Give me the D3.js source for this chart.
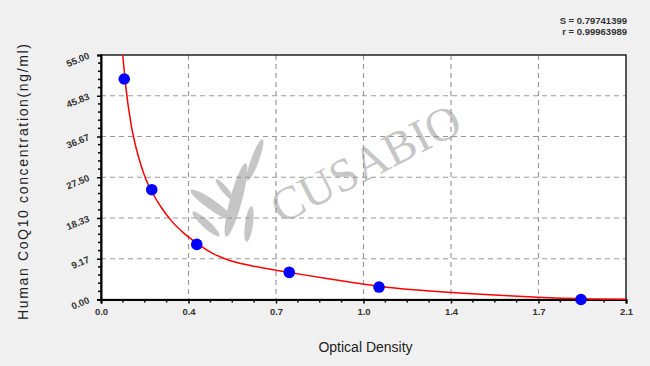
<!DOCTYPE html>
<html><head><meta charset="utf-8">
<script src="https://cdn.jsdelivr.net/npm/d3@7"></script>
<style>html,body{margin:0;padding:0;background:#f0f0f0;}svg{display:block;}</style>
</head><body>
<svg id="c" width="650" height="366"></svg>
<script>
const pointOD   = [0.093, 0.203, 0.383, 0.753, 1.112, 1.92];
const pointConc = [49.6, 24.7, 12.4, 6.1, 2.8, 0.0];
const curveOD   = [0.087, 0.10, 0.12, 0.14, 0.16, 0.18, 0.203, 0.24, 0.28, 0.33, 0.383, 0.443, 0.503, 0.6, 0.7, 0.753, 0.8, 0.903, 1.0, 1.112, 1.25, 1.356, 1.45, 1.536, 1.63, 1.728, 1.843, 1.95, 2.1];
const curveConc = [55, 47.5, 39.5, 34.2, 30.2, 27.0, 24.3, 20.8, 17.8, 15.0, 12.7, 10.5, 9.0, 7.6, 6.6, 6.1, 5.65, 4.72, 3.9, 3.0, 2.2, 1.75, 1.4, 1.1, 0.82, 0.56, 0.3, 0.14, 0.03];
const xTicks = [0, 0.35, 0.7, 1.05, 1.4, 1.75, 2.1];
const xTickLabels = ["0.0", "0.4", "0.7", "1.0", "1.4", "1.7", "2.1"];
const yTicks = [0, 9.1667, 18.3333, 27.5, 36.6667, 45.8333, 55];
const yTickLabels = ["0.00", "9.17", "18.33", "27.50", "36.67", "45.83", "55.00"];
const statLines = ["S = 0.79741399", "r = 0.99963989"];
const xTitle = "Optical Density";
const yTitle = "Human CoQ10 concentration(ng/ml)";

const svg = d3.select("#c");
const L = 101, R = 626, T = 55, B = 299.5;
const x = d3.scaleLinear().domain([0, 2.1]).range([L, R]);
const y = d3.scaleLinear().domain([0, 55]).range([B, T]);

svg.append("rect").attr("width", 650).attr("height", 366).attr("fill", "#f0f0f0");
svg.append("rect").attr("x", L).attr("y", T).attr("width", R - L).attr("height", B - T).attr("fill", "#fff");

// grid
const g = svg.append("g");
g.selectAll("line.vg").data(xTicks.slice(1, -1)).join("line")
  .attr("x1", d => x(d)).attr("x2", d => x(d)).attr("y1", T).attr("y2", B)
  .attr("stroke", "#999").attr("stroke-width", 1.2).attr("stroke-dasharray", "5,4");
g.selectAll("line.hg").data(yTicks.slice(1, -1)).join("line")
  .attr("y1", d => y(d)).attr("y2", d => y(d)).attr("x1", L).attr("x2", R)
  .attr("stroke", "#999").attr("stroke-width", 1.2).attr("stroke-dasharray", "5,4");

// watermark
const wm = svg.append("g").attr("opacity", 0.5);
wm.append("text").attr("transform", "translate(368,168) rotate(-27)")
  .attr("text-anchor", "middle").attr("dominant-baseline", "middle")
  .attr("font-family", "Liberation Serif, serif").attr("font-size", 47)
  .attr("fill", "#8f8f8f").text("CUSABIO");
const ell = [[236,200,6,38,15],[255,160,4,22,20],[212,205,26,5,35],[249,224,4,18,8],[206,224,18,4,42],[225,190,14,3,50]];
wm.selectAll("ellipse").data(ell).join("ellipse")
  .attr("transform", d => `translate(${d[0]},${d[1]}) rotate(${d[4]})`)
  .attr("rx", d => d[2]).attr("ry", d => d[3]).attr("fill", "#8f8f8f");

// axes frame
svg.append("rect").attr("x", L).attr("y", T).attr("width", R - L).attr("height", B - T)
  .attr("fill", "none").attr("stroke", "#000").attr("stroke-width", 1.3);

// x axis
const xAxis = d3.axisBottom(x).tickValues(xTicks).tickSize(4).tickFormat((d, i) => xTickLabels[i]);
const xa = svg.append("g").attr("transform", `translate(0,${B})`).call(xAxis);
const xMinor = [];
for (let i = 0; i < xTicks.length - 1; i++) for (let k = 1; k < 4; k++) xMinor.push(xTicks[i] + (xTicks[i+1]-xTicks[i]) * k / 4);
xa.selectAll("line.minor").data(xMinor).join("line").attr("class","minor")
  .attr("x1", d => x(d)).attr("x2", d => x(d)).attr("y1", 0).attr("y2", 3).attr("stroke", "#000").attr("stroke-width", 1.5);
xa.select(".domain").attr("stroke-width", 2);
xa.selectAll(".tick line").attr("stroke-width", 1.5);
xa.selectAll(".tick text").attr("font-family", "Liberation Sans, Arial, sans-serif").attr("font-weight", "bold")
  .attr("font-size", 9.5).attr("fill", "#333").attr("dy", "0.9em");

// y axis
const yAxis = d3.axisLeft(y).tickValues(yTicks).tickSize(4).tickFormat((d, i) => yTickLabels[i]);
const ya = svg.append("g").attr("transform", `translate(${L},0)`).call(yAxis);
const yMinor = [];
for (let i = 0; i < yTicks.length - 1; i++) for (let k = 1; k < 5; k++) yMinor.push(yTicks[i] + (yTicks[i+1]-yTicks[i]) * k / 5);
ya.selectAll("line.minor").data(yMinor).join("line").attr("class","minor")
  .attr("y1", d => y(d)).attr("y2", d => y(d)).attr("x1", 0).attr("x2", -3).attr("stroke", "#000").attr("stroke-width", 1.5);
ya.select(".domain").attr("stroke-width", 2);
ya.selectAll(".tick line").attr("stroke-width", 1.5);
ya.selectAll(".tick text").attr("font-family", "Liberation Sans, Arial, sans-serif").attr("font-weight", "bold")
  .attr("font-size", 9.5).attr("fill", "#333")
  .attr("transform", "translate(-12,0) rotate(-22)").attr("x", 0);

// curve
const line = d3.line().x(d => x(d[0])).y(d => y(d[1])).curve(d3.curveMonotoneX);
svg.append("path").datum(curveOD.map((d, i) => [d, curveConc[i]]))
  .attr("d", line).attr("fill", "none").attr("stroke", "#ff0000").attr("stroke-width", 1.5);

// points
svg.selectAll("circle.pt").data(pointOD.map((d, i) => [d, pointConc[i]])).join("circle")
  .attr("cx", d => x(d[0])).attr("cy", d => y(d[1])).attr("r", 5.8).attr("fill", "#0000ff");

// titles
svg.append("text").attr("x", (L + R) / 2 + 2).attr("y", 352).attr("text-anchor", "middle")
  .attr("font-family", "Liberation Sans, Arial, sans-serif").attr("font-size", 14).attr("fill", "#222").text(xTitle);
svg.append("text").attr("transform", "translate(28,182) rotate(-90)").attr("text-anchor", "middle")
  .attr("font-family", "Liberation Sans, Arial, sans-serif").attr("font-size", 14).attr("fill", "#222")
  .attr("textLength", 276).attr("lengthAdjust", "spacing").text(yTitle);

svg.selectAll("text.stat").data(statLines).join("text").attr("class", "stat")
  .attr("x", 627).attr("y", (d, i) => 24 + i * 11).attr("text-anchor", "end")
  .attr("font-family", "Liberation Sans, Arial, sans-serif").attr("font-weight", "bold")
  .attr("font-size", 9.5).attr("fill", "#333").text(d => d);
</script>
</body></html>
